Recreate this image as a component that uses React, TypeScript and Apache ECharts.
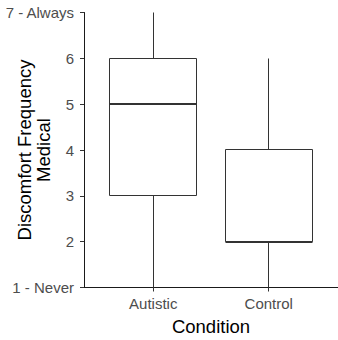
import React, { useEffect, useRef } from "react";
import * as echarts from "echarts";

const categories = ["Autistic", "Control"];
const whiskerLow = [1, 1];
const q1 = [3, 2];
const median = [5, 2];
const q3 = [6, 4];
const whiskerHigh = [7, 6];
const yLabels: Record<number, string> = { 1: "1 - Never", 7: "7 - Always" };

const FONT = "'Liberation Sans', Arial, sans-serif";

export default function App() {
  const ref = useRef<HTMLDivElement>(null);
  useEffect(() => {
    if (!ref.current) return;
    const chart = echarts.init(ref.current, null, { renderer: "svg" });
    const data = categories.map((_, i) => [
      i + 1,
      whiskerLow[i],
      q1[i],
      median[i],
      q3[i],
      whiskerHigh[i],
    ]);
    const crisp = (v: number) => Math.round(v - 0.5) + 0.5;
    chart.setOption({
      animation: false,
      backgroundColor: "#ffffff",
      grid: {
        left: 84,
        right: 0,
        top: 12.5,
        bottom: 52.5,
        containLabel: false,
        outerBoundsMode: "none",
      },
      xAxis: {
        type: "value",
        min: 0.4,
        max: 2.6,
        name: "Condition",
        nameLocation: "middle",
        nameGap: 29,
        nameMoveOverlap: false,
        nameTextStyle: { fontSize: 18.5, color: "#000", fontFamily: FONT },
        axisLine: { show: true, lineStyle: { color: "#1a1a1a", width: 1 } },
        axisTick: { show: true, length: 4, customValues: [1, 2], lineStyle: { color: "#333" } },
        axisLabel: {
          customValues: [1, 2],
          margin: 8,
          fontSize: 15,
          color: "#4d4d4d",
          fontFamily: FONT,
          formatter: (v: number) => categories[Math.round(v) - 1] ?? "",
        },
        splitLine: { show: false },
      },
      yAxis: {
        type: "value",
        min: 1,
        max: 7,
        interval: 1,
        name: "Discomfort Frequency\nMedical",
        nameLocation: "middle",
        nameGap: 31,
        nameMoveOverlap: false,
        nameTextStyle: { fontSize: 18.5, color: "#000", fontFamily: FONT, lineHeight: 19, align: "center" },
        axisLine: { show: true, lineStyle: { color: "#1a1a1a", width: 1 } },
        axisTick: { show: true, length: 4, lineStyle: { color: "#333" } },
        axisLabel: {
          margin: 10,
          fontSize: 15,
          color: "#4d4d4d",
          fontFamily: FONT,
          formatter: (v: number) => yLabels[v] ?? String(v),
        },
        splitLine: { show: false },
      },
      series: [
        {
          type: "custom",
          data,
          encode: { x: 0, y: [1, 2, 3, 4, 5] },
          renderItem: (params: any, api: any) => {
            const x = api.value(0);
            const half = api.size([0.75, 0])[0] / 2;
            const c = api.coord([x, api.value(1)]);
            const cx = crisp(c[0]);
            const yLow = crisp(c[1]);
            const yQ1 = crisp(api.coord([x, api.value(2)])[1]);
            const yMed = Math.round(api.coord([x, api.value(3)])[1]);
            const yQ3 = crisp(api.coord([x, api.value(4)])[1]);
            const yHigh = crisp(api.coord([x, api.value(5)])[1]);
            const left = crisp(c[0] - half);
            const right = crisp(c[0] + half);
            const stroke = { stroke: "#333333", lineWidth: 1, fill: null };
            return {
              type: "group",
              children: [
                { type: "line", shape: { x1: cx, y1: yLow, x2: cx, y2: yQ1 }, style: stroke },
                { type: "line", shape: { x1: cx, y1: yQ3, x2: cx, y2: yHigh }, style: stroke },
                {
                  type: "rect",
                  shape: { x: left, y: yQ3, width: right - left, height: yQ1 - yQ3 },
                  style: { stroke: "#333333", lineWidth: 1, fill: "#ffffff" },
                },
                {
                  type: "line",
                  shape: { x1: left, y1: yMed, x2: right, y2: yMed },
                  style: { stroke: "#333333", lineWidth: 2, fill: null },
                },
              ],
            };
          },
        },
      ],
    });
    return () => chart.dispose();
  }, []);
  return <div ref={ref} style={{ width: 338, height: 340, position: "absolute", left: 0, top: 0 }} />;
}
